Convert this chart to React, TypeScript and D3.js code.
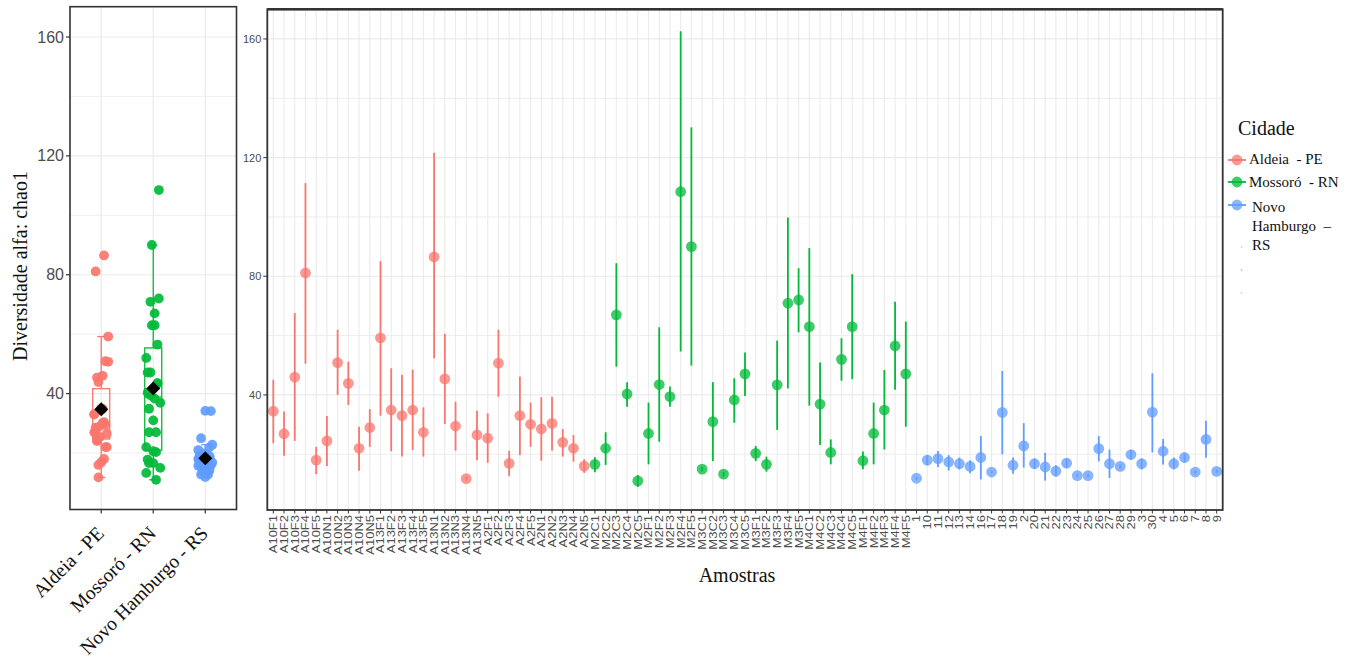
import React from 'react';
import * as d3 from 'd3';

// Cities (groups) and their colours
const cities = ['Aldeia - PE', 'Mossoró - RN', 'Novo Hamburgo - RS'];
const cityColors = ['#F8766D', '#00BA38', '#619CFF'];
const legendLines = [['Aldeia  - PE'], ['Mossoró  - RN'], ['Novo', 'Hamburgo  –', 'RS']];

// Aldeia - PE samples
const aldeiaSamples = [
  'A10F1', 'A10F2', 'A10F3', 'A10F4', 'A10F5', 'A10N1', 'A10N2', 'A10N3', 'A10N4', 'A10N5',
  'A13F1', 'A13F2', 'A13F3', 'A13F4', 'A13F5', 'A13N1', 'A13N2', 'A13N3', 'A13N4', 'A13N5',
  'A2F1', 'A2F2', 'A2F3', 'A2F4', 'A2F5', 'A2N1', 'A2N2', 'A2N3', 'A2N4', 'A2N5',
];
const aldeiaChao1 = [
  34.5, 26.9, 46.0, 81.1, 18.0, 24.5, 50.9, 43.9, 22.0, 29.0,
  59.2, 34.9, 33.0, 34.9, 27.4, 86.5, 45.4, 29.5, 11.8, 26.5,
  25.4, 50.7, 16.9, 33.0, 30.1, 28.5, 30.4, 24.0, 22.0, 16.0,
];
const aldeiaLower = [
  23.7, 19.5, 24.5, 50.5, 13.3, 16.0, 40.0, 36.6, 14.4, 22.5,
  33.0, 21.0, 19.2, 21.4, 19.2, 52.3, 30.2, 21.2, 11.0, 18.0,
  17.1, 39.4, 12.6, 19.7, 22.5, 17.8, 21.2, 19.2, 17.5, 13.7,
];
const aldeiaUpper = [
  45.1, 34.4, 67.6, 111.4, 22.5, 32.9, 62.0, 51.2, 29.3, 35.2,
  85.1, 49.0, 46.8, 48.5, 35.8, 121.6, 60.6, 37.7, 12.6, 34.7,
  33.8, 62.0, 21.2, 46.2, 37.4, 39.2, 39.4, 28.5, 26.5, 18.3,
];

// Mossoró - RN samples
const mossoroSamples = [
  'M2C1', 'M2C2', 'M2C3', 'M2C4', 'M2C5', 'M2F1', 'M2F2', 'M2F3', 'M2F4', 'M2F5',
  'M3C1', 'M3C2', 'M3C3', 'M3C4', 'M3C5', 'M3F1', 'M3F2', 'M3F3', 'M3F4', 'M3F5',
  'M4C1', 'M4C2', 'M4C3', 'M4C4', 'M4C5', 'M4F1', 'M4F2', 'M4F3', 'M4F4', 'M4F5',
];
const mossoroChao1 = [
  16.6, 22.0, 67.0, 40.3, 11.0, 27.0, 43.5, 39.4, 108.5, 90.0,
  15.0, 31.0, 13.3, 38.3, 47.1, 20.3, 16.6, 43.4, 70.9, 72.0,
  63.0, 36.9, 20.6, 52.0, 63.0, 17.8, 27.0, 34.9, 56.5, 47.1,
];
const mossoroLower = [
  13.9, 16.4, 49.5, 36.0, 9.0, 16.6, 24.2, 36.0, 54.6, 49.9,
  14.2, 17.7, 12.5, 30.6, 39.6, 17.7, 14.1, 28.2, 42.2, 61.1,
  36.4, 23.1, 16.6, 44.8, 45.3, 14.9, 16.6, 21.6, 41.7, 29.3,
];
const mossoroUpper = [
  19.0, 27.4, 84.4, 44.3, 13.0, 37.4, 62.8, 42.8, 162.6, 130.2,
  15.8, 44.3, 14.1, 45.6, 54.3, 22.8, 19.2, 58.3, 99.8, 82.7,
  89.5, 50.9, 25.0, 59.1, 80.7, 20.9, 37.4, 48.4, 71.4, 64.7,
];

// Novo Hamburgo - RS samples
const novoSamples = [
  '1', '10', '11', '12', '13', '14', '16', '17', '18', '19',
  '2', '20', '21', '22', '23', '24', '25', '26', '27', '28',
  '29', '3', '30', '4', '5', '6', '7', '8', '9',
];
const novoChao1 = [
  11.9, 18.0, 18.5, 17.4, 16.8, 15.9, 18.9, 14.0, 34.1, 16.3,
  22.8, 16.8, 15.7, 14.3, 17.0, 12.8, 12.8, 21.9, 16.8, 15.9,
  19.9, 16.8, 34.2, 21.0, 16.8, 18.9, 14.0, 25.0, 14.2,
];
const novoLower = [
  11.4, 16.3, 15.7, 14.5, 14.9, 13.6, 11.5, 13.5, 20.0, 13.4,
  15.5, 15.1, 11.1, 12.5, 15.5, 12.3, 12.3, 17.6, 12.0, 15.2,
  18.2, 14.9, 20.6, 16.5, 14.9, 17.2, 13.5, 18.8, 13.7,
];
const novoUpper = [
  12.4, 19.7, 21.1, 19.7, 18.9, 18.0, 26.1, 14.5, 48.1, 18.9,
  30.5, 18.5, 20.5, 16.3, 18.5, 13.3, 13.3, 26.1, 21.6, 16.6,
  21.4, 18.5, 47.3, 25.1, 18.9, 20.2, 14.5, 31.3, 14.7,
];

const majorTicks = [40, 80, 120, 160];
const minorTicks = [20, 60, 100, 140];

type Row = { sample: string; city: number; v: number; lo: number; hi: number };

const groups = [
  { samples: aldeiaSamples, v: aldeiaChao1, lo: aldeiaLower, hi: aldeiaUpper },
  { samples: mossoroSamples, v: mossoroChao1, lo: mossoroLower, hi: mossoroUpper },
  { samples: novoSamples, v: novoChao1, lo: novoLower, hi: novoUpper },
];

const rows: Row[] = groups.flatMap((g, ci) =>
  g.samples.map((s, i) => ({ sample: s, city: ci, v: g.v[i], lo: g.lo[i], hi: g.hi[i] }))
);

const SANS = "'Liberation Sans', Arial, sans-serif";
const SERIF = "'Liberation Serif', 'Times New Roman', serif";
const GRID = '#EBEBEB';
const AXIS_TXT = '#4D4D4D';
const BORDER = '#333333';

function BoxPanel() {
  const left = 70, right = 236.5, top = 6.7, bottom = 509.5;
  const x = d3.scalePoint<string>().domain(cities).range([left, right]).padding(0.6);
  const y = d3.scaleLinear().domain([1.0, 170.2]).range([bottom, top]);
  // deterministic horizontal spread of the points around each group
  const jitter = (i: number) => ((((i * 17 + 5) % 11) / 10) - 0.5) * 14;

  return (
    <g>
      <rect x={left} y={top} width={right - left} height={bottom - top} fill="#fff" />
      {minorTicks.map(t => (
        <line key={'mn' + t} x1={left} x2={right} y1={y(t)} y2={y(t)} stroke={GRID} strokeWidth={0.8} />
      ))}
      {majorTicks.map(t => (
        <line key={'mj' + t} x1={left} x2={right} y1={y(t)} y2={y(t)} stroke={GRID} strokeWidth={1.2} />
      ))}
      {cities.map(c => (
        <line key={'vg' + c} x1={x(c)} x2={x(c)} y1={top} y2={bottom} stroke={GRID} strokeWidth={1.2} />
      ))}
      {groups.map((g, ci) => {
        const sorted = [...g.v].sort(d3.ascending);
        const q1 = d3.quantile(sorted, 0.25)!;
        const med = d3.quantile(sorted, 0.5)!;
        const q3 = d3.quantile(sorted, 0.75)!;
        const iqr = q3 - q1;
        const wHi = d3.max(sorted.filter(v => v <= q3 + 1.5 * iqr))!;
        const wLo = d3.min(sorted.filter(v => v >= q1 - 1.5 * iqr))!;
        const cx = x(cities[ci])!;
        const col = cityColors[ci];
        const hw = 8.5;
        return (
          <g key={'box' + ci}>
            <line x1={cx} x2={cx} y1={y(q3)} y2={y(wHi)} stroke={col} strokeWidth={1.3} />
            <line x1={cx} x2={cx} y1={y(q1)} y2={y(wLo)} stroke={col} strokeWidth={1.3} />
            <line x1={cx - 4} x2={cx + 4} y1={y(wHi)} y2={y(wHi)} stroke={col} strokeWidth={1.3} />
            <line x1={cx - 4} x2={cx + 4} y1={y(wLo)} y2={y(wLo)} stroke={col} strokeWidth={1.3} />
            <rect x={cx - hw} y={y(q3)} width={2 * hw} height={y(q1) - y(q3)} fill="none" stroke={col} strokeWidth={1.3} />
            <line x1={cx - hw} x2={cx + hw} y1={y(med)} y2={y(med)} stroke={col} strokeWidth={1.3} />
          </g>
        );
      })}
      {groups.map((g, ci) =>
        g.v.map((v, i) => (
          <circle key={'jp' + ci + '-' + i} cx={x(cities[ci])! + jitter(i)} cy={y(v)} r={4.9}
            fill={cityColors[ci]} opacity={0.92} />
        ))
      )}
      {groups.map((g, ci) => {
        const m = d3.mean(g.v)!;
        const cx = x(cities[ci])!;
        const cy = y(m);
        const s = 7;
        return <path key={'mean' + ci} d={`M${cx},${cy - s}L${cx + s},${cy}L${cx},${cy + s}L${cx - s},${cy}Z`} fill="#000" />;
      })}
      <rect x={left} y={top} width={right - left} height={bottom - top} fill="none" stroke={BORDER} strokeWidth={1.6} />
      {majorTicks.map(t => (
        <g key={'yt' + t}>
          <line x1={left - 4} x2={left} y1={y(t)} y2={y(t)} stroke={BORDER} strokeWidth={1.2} />
          <text x={left - 6} y={y(t)} textAnchor="end" dominantBaseline="central" fontFamily={SANS}
            fontSize={16} fill={AXIS_TXT}>{t}</text>
        </g>
      ))}
      {cities.map(c => (
        <g key={'xt' + c}>
          <line x1={x(c)} x2={x(c)} y1={bottom} y2={bottom + 4} stroke={BORDER} strokeWidth={1.2} />
          <text transform={`translate(${x(c)! + 4},${bottom + 25}) rotate(-45)`} textAnchor="end"
            fontFamily={SERIF} fontSize={19.5} fill="#111">{c}</text>
        </g>
      ))}
      <text transform={`translate(27,${266}) rotate(-90)`} textAnchor="middle" fontFamily={SERIF}
        fontSize={20} fill="#111">Diversidade alfa: chao1</text>
    </g>
  );
}

function SamplePanel() {
  const left = 267.3, right = 1222.7, top = 9.3, bottom = 510;
  const x = d3.scalePoint<string>().domain(rows.map(r => r.sample)).range([left, right]).padding(0.56);
  const y = d3.scaleLinear().domain([1.2, 170]).range([bottom, top]);

  return (
    <g>
      <rect x={left} y={top} width={right - left} height={bottom - top} fill="#fff" />
      {minorTicks.map(t => (
        <line key={'mn' + t} x1={left} x2={right} y1={y(t)} y2={y(t)} stroke={GRID} strokeWidth={0.9} />
      ))}
      {majorTicks.map(t => (
        <line key={'mj' + t} x1={left} x2={right} y1={y(t)} y2={y(t)} stroke={GRID} strokeWidth={1.2} />
      ))}
      {rows.map(r => (
        <line key={'vg' + r.sample} x1={x(r.sample)} x2={x(r.sample)} y1={top} y2={bottom} stroke={GRID} strokeWidth={1.1} />
      ))}
      {rows.map(r => (
        <line key={'eb' + r.sample} x1={x(r.sample)} x2={x(r.sample)} y1={y(r.lo)} y2={y(r.hi)}
          stroke={cityColors[r.city]} strokeWidth={1.8} />
      ))}
      {rows.map(r => (
        <circle key={'pt' + r.sample} cx={x(r.sample)} cy={y(r.v)} r={5.4} fill={cityColors[r.city]} opacity={0.75} />
      ))}
      <rect x={left} y={top} width={right - left} height={bottom - top} fill="none" stroke={BORDER} strokeWidth={1.8} />
      <line x1={left} x2={right} y1={top} y2={top} stroke={BORDER} strokeWidth={2.6} />
      {majorTicks.map(t => (
        <g key={'yt' + t}>
          <line x1={left - 4} x2={left} y1={y(t)} y2={y(t)} stroke={BORDER} strokeWidth={1} />
          <text x={left - 6} y={y(t)} textAnchor="end" dominantBaseline="central" fontFamily={SANS}
            fontSize={11} fill={AXIS_TXT}>{t}</text>
        </g>
      ))}
      {rows.map(r => (
        <g key={'xt' + r.sample}>
          <line x1={x(r.sample)} x2={x(r.sample)} y1={bottom} y2={bottom + 3.5} stroke={BORDER} strokeWidth={1} />
          <text transform={`translate(${x(r.sample)},${bottom + 5}) rotate(-90) scale(1,0.78)`} textAnchor="end"
            dominantBaseline="central" fontFamily={SANS} fontSize={13} fill={AXIS_TXT}>{r.sample}</text>
        </g>
      ))}
      <text x={737} y={582} textAnchor="middle" fontFamily={SERIF} fontSize={20} fill="#111">Amostras</text>
    </g>
  );
}

function Legend() {
  const kx = 1237;
  const keyY = [160, 182, 205];
  const textBase = [[164], [187], [211.5, 231, 250]];
  return (
    <g>
      <text x={1238} y={135} fontFamily={SERIF} fontSize={20} fill="#111">Cidade</text>
      {cities.map((c, i) => (
        <g key={'lg' + c}>
          <line x1={kx - 9} x2={kx + 9} y1={keyY[i]} y2={keyY[i]} stroke={cityColors[i]} strokeWidth={1.8} />
          <circle cx={kx} cy={keyY[i]} r={5.4} fill={cityColors[i]} opacity={0.75} />
          {legendLines[i].map((ln, j) => (
            <text key={j} x={i === 2 ? 1252 : 1249} y={textBase[i][j]} fontFamily={SERIF} fontSize={15}
              fill="#111" style={{ whiteSpace: 'pre' }}>{ln}</text>
          ))}
        </g>
      ))}
      {cityColors.map((col, i) => (
        <circle key={'sp' + i} cx={1241.5} cy={247 + i * 23} r={0.8} fill={col} opacity={0.6} />
      ))}
    </g>
  );
}

export default function App() {
  return (
    <svg width={1356} height={667} viewBox="0 0 1356 667"
      style={{ position: 'absolute', left: 0, top: 0, display: 'block', background: '#fff' }}>
      <rect width={1356} height={667} fill="#fff" />
      <BoxPanel />
      <SamplePanel />
      <Legend />
    </svg>
  );
}
